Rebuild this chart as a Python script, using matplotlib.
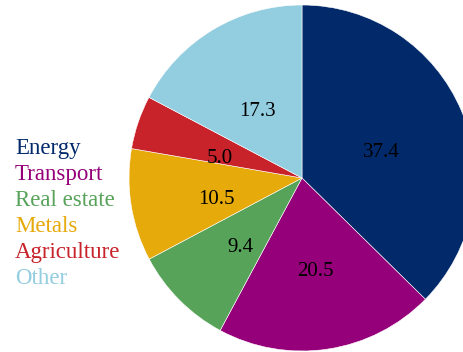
import matplotlib.pyplot as plt
from matplotlib.lines import Line2D

# shares by sector, clockwise from the top
sectors = ['Energy', 'Transport', 'Real estate', 'Metals', 'Agriculture', 'Other']
shares = [37.4, 20.5, 9.4, 10.5, 5.0, 17.3]
colors = ['#022a6a', '#95007a', '#58a35a', '#e6aa0a', '#c8222b', '#93cde0']

plt.rcParams['font.family'] = ['Liberation Serif', 'DejaVu Serif']

W, H = 464, 352
fig = plt.figure(figsize=(W / 100, H / 100), dpi=100)
ax = fig.add_axes([0, 0, 1, 1])

wedges, texts = ax.pie(
    shares, colors=colors, startangle=90, counterclock=False,
    center=(302, H - 178), radius=173,
    labels=[f'{v:.1f}' for v in shares], labeldistance=0.5,
    textprops=dict(fontsize=15, color='black', ha='center', va='center'),
    wedgeprops=dict(linewidth=0.4, edgecolor='white'),
)
for t in texts:
    t.set_ha('center')
    x, y = t.get_position()
    t.set_position((x, y - 8))

# pie() resets the limits, so pin them to figure pixels afterwards
ax.set_xlim(0, W)
ax.set_ylim(0, H)
ax.set_aspect('equal')
ax.axis('off')

# cut-off heading above the chart
ax.text(3, H + 2.5, 'T', fontsize=14, color='#666666', ha='left', va='bottom',
        clip_on=False)

# text-only legend, each label in its sector colour
handles = [Line2D([], [], linestyle='none') for _ in sectors]
leg = ax.legend(handles, sectors, loc='upper left',
                bbox_to_anchor=(15 / W, 1 - 138 / H), frameon=False,
                borderpad=0, borderaxespad=0,
                handlelength=0, handletextpad=0, labelspacing=0.215,
                fontsize=16.5, labelcolor=colors)

fig.savefig('out.png', dpi=100)
